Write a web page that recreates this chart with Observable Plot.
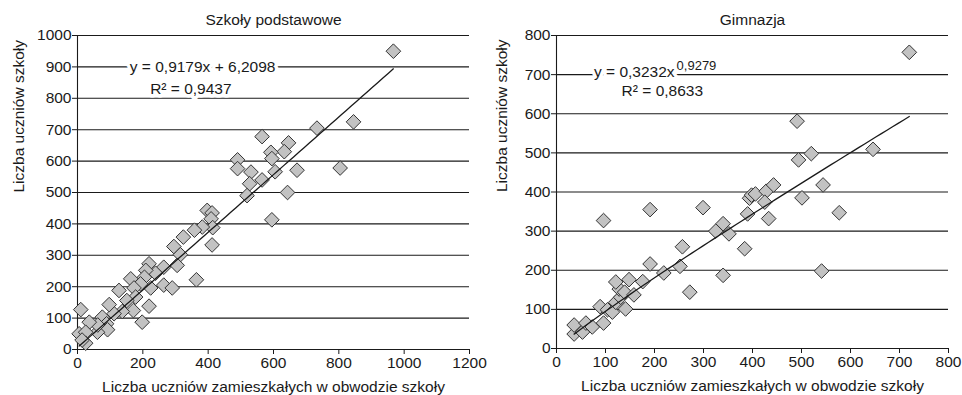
<!DOCTYPE html>
<html><head><meta charset="utf-8">
<script src="https://cdn.jsdelivr.net/npm/d3@7"></script>
<script src="https://cdn.jsdelivr.net/npm/@observablehq/plot@0.6"></script>
<style>
body{margin:0;background:#fff;}
#wrap{display:flex;width:962px;height:395px;overflow:visible;}
svg{overflow:visible;display:block;}
</style></head><body><div id="wrap"></div>
<script>
const titles = ["Szkoły podstawowe", "Gimnazja"];
const xLabel = "Liczba uczniów zamieszkałych w obwodzie szkoły";
const yLabel = "Liczba uczniów szkoły";

// [liczba uczniów zamieszkałych w obwodzie, liczba uczniów szkoły]
const szkolyPodstawowe = [
  [967,950],[845,725],[733,705],[804,578],[565,678],[646,658],[633,630],[592,628],[595,608],
  [490,604],[490,576],[531,565],[605,566],[672,571],[565,540],[527,528],[519,490],[643,500],
  [595,413],[397,443],[412,435],[409,416],[414,388],[382,390],[358,380],[412,333],[324,358],
  [295,328],[315,302],[305,268],[364,222],[264,262],[219,273],[239,243],[209,252],[205,230],
  [224,196],[193,209],[264,205],[290,196],[219,138],[163,225],[173,196],[178,167],[127,188],
  [151,156],[171,124],[137,121],[112,114],[97,143],[76,103],[89,82],[92,63],[198,87],
  [61,55],[62,78],[36,87],[10,127],[5,50],[25,55],[25,20],[14,30]
];
const gimnazja = [
  [36,37],[36,60],[53,42],[60,65],[73,55],[96,65],[89,107],[104,99],[114,93],[121,118],
  [141,101],[131,131],[128,152],[139,144],[158,137],[121,170],[148,176],[176,171],[96,327],
  [191,216],[191,355],[219,193],[252,210],[257,260],[272,144],[299,360],[325,300],[340,319],
  [352,293],[340,187],[384,255],[390,344],[394,384],[398,392],[406,395],[428,402],[425,374],
  [433,332],[443,418],[491,581],[494,482],[520,498],[501,385],[541,198],[544,418],[577,347],
  [646,509],[720,757]
];

const spXTicks = [0,200,400,600,800,1000,1200];
const spYTicks = [0,100,200,300,400,500,600,700,800,900,1000];
const gXTicks = [0,100,200,300,400,500,600,700,800];
const gYTicks = [0,100,200,300,400,500,600,700,800];

// trend lines as labelled in the chart
const spTrend = {slope: 0.9179, intercept: 6.2098};
const gTrend = {coef: 1.3232, exp: 0.9279}; // curve as drawn
const spEq = "y = 0,9179x + 6,2098";
const spR2 = "R² = 0,9437";
const gEqMain = "y = 0,3232x";
const gEqExp = "0,9279";
const gR2 = "R² = 0,8633";

const ink = "#1a1a1a";
const font = "Liberation Sans, Arial, sans-serif";
const fs = 15.5;

function panel(o) {
  const xs = d3.extent(o.points, d => d[0]);
  const curve = d3.range(0, 61).map(i => {
    const x = xs[0] + (xs[1] - xs[0]) * i / 60;
    return [x, o.f(x)];
  });
  return Plot.plot({
    width: 481, height: 395,
    marginLeft: o.ml, marginRight: o.mr, marginTop: 35, marginBottom: o.mb,
    style: {fontFamily: font, fontSize: fs + "px", color: ink, overflow: "visible"},
    x: {domain: o.xd, ticks: o.xt, tickFormat: d => String(d), label: null},
    y: {domain: o.yd, ticks: o.yt, tickFormat: d => String(d), label: null},
    marks: [
      Plot.gridY(o.yt, {stroke: ink, strokeOpacity: 1, strokeWidth: 1.1}),
      Plot.ruleX([0], {stroke: ink, strokeWidth: 1.1}),
      Plot.ruleY([0], {stroke: ink, strokeWidth: 1.1}),
      Plot.axisX({ticks: o.xt, tickSize: 5, tickPadding: 2, tickFormat: d => String(d), label: null, fontSize: fs}),
      Plot.axisY({ticks: o.yt, tickSize: 5, tickPadding: 1, tickFormat: d => String(d), label: null, fontSize: fs}),
      Plot.dot(o.points, {x: d => d[0], y: d => d[1], symbol: "diamond2", r: 6.6, fill: "#c2c2c2", stroke: "#333", strokeWidth: 1}),
      Plot.line(curve, {x: d => d[0], y: d => d[1], stroke: ink, strokeWidth: 1.3}),
      ...o.labels,
      Plot.text([o.title], {frameAnchor: "top", text: d => d, dy: -15, lineAnchor: "middle", fontSize: fs, fill: ink}),
      Plot.text([xLabel], {frameAnchor: "bottom", text: d => d, dy: 38, lineAnchor: "middle", fontSize: fs, fill: ink}),
      Plot.text([yLabel], {frameAnchor: "left", text: d => d, dx: o.ydx, rotate: -90, lineAnchor: "middle", fontSize: fs, fill: ink})
    ]
  });
}

const halo = {stroke: "white", strokeWidth: 7, paintOrder: "stroke", fill: ink, lineAnchor: "middle"};

const left = panel({
  points: szkolyPodstawowe, title: titles[0],
  xd: [0, 1200], yd: [0, 1000], xt: spXTicks, yt: spYTicks,
  ml: 77, mr: 12, mb: 46, ydx: -58,
  f: x => spTrend.slope * x + spTrend.intercept,
  labels: [
    Plot.text([spEq], {x: 383, y: 900, text: d => d, fontSize: 15.5, ...halo}),
    Plot.text([spR2], {x: 347, y: 829, text: d => d, fontSize: 15.5, ...halo})
  ]
});
const right = panel({
  points: gimnazja, title: titles[1],
  xd: [0, 800], yd: [0, 800], xt: gXTicks, yt: gYTicks,
  ml: 75, mr: 14, mb: 47, ydx: -54,
  f: x => gTrend.coef * Math.pow(x, gTrend.exp),
  labels: [
    Plot.text([gEqMain], {x: 241, y: 706, text: d => d, fontSize: 15.5, textAnchor: "end", ...halo}),
    Plot.text([gEqExp], {x: 241, y: 706, text: d => d, fontSize: 13, textAnchor: "start", dx: 2, dy: -6, ...halo, strokeWidth: 4}),
    Plot.text([gR2], {x: 216, y: 657, text: d => d, fontSize: 15.5, ...halo})
  ]
});
const wrap = document.getElementById("wrap");
wrap.appendChild(left);
wrap.appendChild(right);
</script></body></html>
